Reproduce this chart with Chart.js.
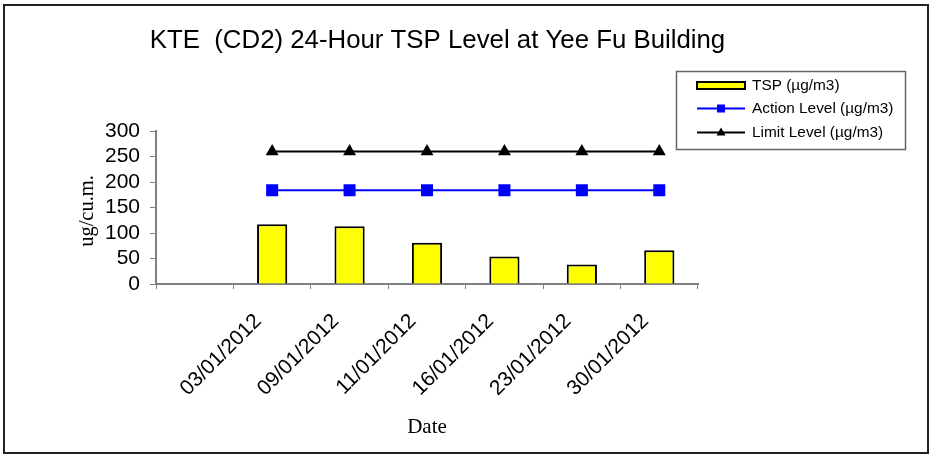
<!DOCTYPE html>
<html>
<head>
<meta charset="utf-8">
<script src="https://cdn.jsdelivr.net/npm/chart.js@4.4.1/dist/chart.umd.min.js"></script>
<style>
  html, body { margin: 0; padding: 0; background: #fff; }
  #wrap { width: 930px; height: 455px; position: relative; }
</style>
</head>
<body>
<div id="wrap"><canvas id="c" width="930" height="455"></canvas></div>
<script>
const categories = ["", "03/01/2012", "09/01/2012", "11/01/2012", "16/01/2012", "23/01/2012", "30/01/2012"];
const tspValues = [null, 117, 113, 81, 54, 38, 66];
const actionLevel = [null, 184, 184, 184, 184, 184, 184];
const limitLevel = [null, 260, 260, 260, 260, 260, 260];
const yTickStep = 50;
const yMin = 0;
const yMax = 300;

const chartTitle = "KTE  (CD2) 24-Hour TSP Level at Yee Fu Building";
const yTitle = "ug/cu.m.";
const xTitle = "Date";
const legendLabels = ["TSP (\u00b5g/m3)", "Action Level (\u00b5g/m3)", "Limit Level (\u00b5g/m3)"];

const SANS = "'Liberation Sans', Arial, sans-serif";
const SERIF = "'Liberation Serif', 'Times New Roman', serif";

const decor = {
  id: 'decor',
  beforeDraw(chart) {
    const ctx = chart.ctx;
    ctx.save();
    ctx.fillStyle = '#fff';
    ctx.fillRect(0, 0, chart.width, chart.height);
    ctx.restore();
  },
  afterDraw(chart) {
    const ctx = chart.ctx;
    const ca = chart.chartArea;
    ctx.save();
    // outer frame
    ctx.strokeStyle = '#222';
    ctx.lineWidth = 2;
    ctx.strokeRect(4, 5, 924, 448);
    // title
    ctx.fillStyle = '#000';
    ctx.font = '25.8px ' + SANS;
    ctx.textAlign = 'center';
    ctx.textBaseline = 'alphabetic';
    ctx.fillText(chartTitle, 437.5, 48);
    // x title
    ctx.font = '21px ' + SERIF;
    ctx.fillText(xTitle, (ca.left + ca.right) / 2, 433);
    // y title
    ctx.save();
    ctx.translate(88, 211);
    ctx.rotate(-Math.PI / 2);
    ctx.textBaseline = 'middle';
    ctx.font = '20.5px ' + SERIF;
    ctx.fillText(yTitle, 0, 0);
    ctx.restore();
    // legend
    ctx.strokeStyle = '#666';
    ctx.lineWidth = 1.5;
    ctx.strokeRect(676.5, 71.5, 229, 78);
    ctx.font = '15.4px ' + SANS;
    ctx.textAlign = 'left';
    ctx.textBaseline = 'middle';
    const ys = [85.5, 108.5, 132.5];
    ctx.fillStyle = '#ffff00';
    ctx.fillRect(697, 82, 48, 7);
    ctx.strokeStyle = '#000';
    ctx.lineWidth = 2;
    ctx.strokeRect(697, 82, 48, 7);
    ctx.strokeStyle = '#0000ff';
    ctx.beginPath(); ctx.moveTo(697, ys[1]); ctx.lineTo(745, ys[1]); ctx.stroke();
    ctx.fillStyle = '#0000ff';
    ctx.fillRect(717, ys[1] - 4, 8, 8);
    ctx.strokeStyle = '#000';
    ctx.beginPath(); ctx.moveTo(697, ys[2]); ctx.lineTo(745, ys[2]); ctx.stroke();
    ctx.fillStyle = '#000';
    ctx.beginPath(); ctx.moveTo(721, ys[2] - 5); ctx.lineTo(725.5, ys[2] + 3); ctx.lineTo(716.5, ys[2] + 3); ctx.closePath(); ctx.fill();
    legendLabels.forEach((t, i) => ctx.fillText(t, 752, ys[i]));
    ctx.restore();
  }
};

new Chart(document.getElementById('c'), {
  type: 'bar',
  data: {
    labels: categories,
    datasets: [
      {
        type: 'bar',
        label: legendLabels[0],
        data: tspValues,
        backgroundColor: '#ffff00',
        borderColor: '#000',
        borderWidth: 2,
        borderSkipped: 'bottom',
        barPercentage: 0.39,
        categoryPercentage: 1.0,
        order: 3
      },
      {
        type: 'line',
        label: legendLabels[1],
        data: actionLevel,
        borderColor: '#0000ff',
        backgroundColor: '#0000ff',
        borderWidth: 2,
        pointStyle: 'rect',
        pointRadius: 8.5,
        pointBorderWidth: 0,
        tension: 0,
        fill: false,
        order: 2
      },
      {
        type: 'line',
        label: legendLabels[2],
        data: limitLevel,
        borderColor: '#000',
        backgroundColor: '#000',
        borderWidth: 2,
        pointStyle: 'triangle',
        pointRadius: 7.5,
        pointBorderWidth: 0,
        tension: 0,
        fill: false,
        order: 1
      }
    ]
  },
  options: {
    responsive: false,
    animation: false,
    devicePixelRatio: 1,
    layout: { padding: { top: 131, right: 232, left: 0, bottom: 0 } },
    plugins: {
      legend: { display: false },
      title: { display: false },
      tooltip: { enabled: false }
    },
    scales: {
      x: {
        offset: true,
        afterFit(scale) { scale.height = 171; },
        grid: { display: true, drawOnChartArea: false, offset: true, tickLength: 5, color: '#808080', lineWidth: 1 },
        border: { display: true, color: '#808080', width: 2 },
        ticks: {
          autoSkip: false,
          maxRotation: 45,
          minRotation: 45,
          padding: 20,
          labelOffset: -14,
          color: '#000',
          font: { family: SANS, size: 21 }
        }
      },
      y: {
        min: yMin,
        max: yMax,
        afterFit(scale) { scale.width = 156; },
        grid: { display: true, drawOnChartArea: false, tickLength: 6, color: '#808080', lineWidth: 1 },
        border: { display: true, color: '#808080', width: 2 },
        ticks: {
          stepSize: yTickStep,
          autoSkip: false,
          padding: 10,
          color: '#000',
          font: { family: SANS, size: 21 }
        }
      }
    }
  },
  plugins: [decor]
});
</script>
</body>
</html>
